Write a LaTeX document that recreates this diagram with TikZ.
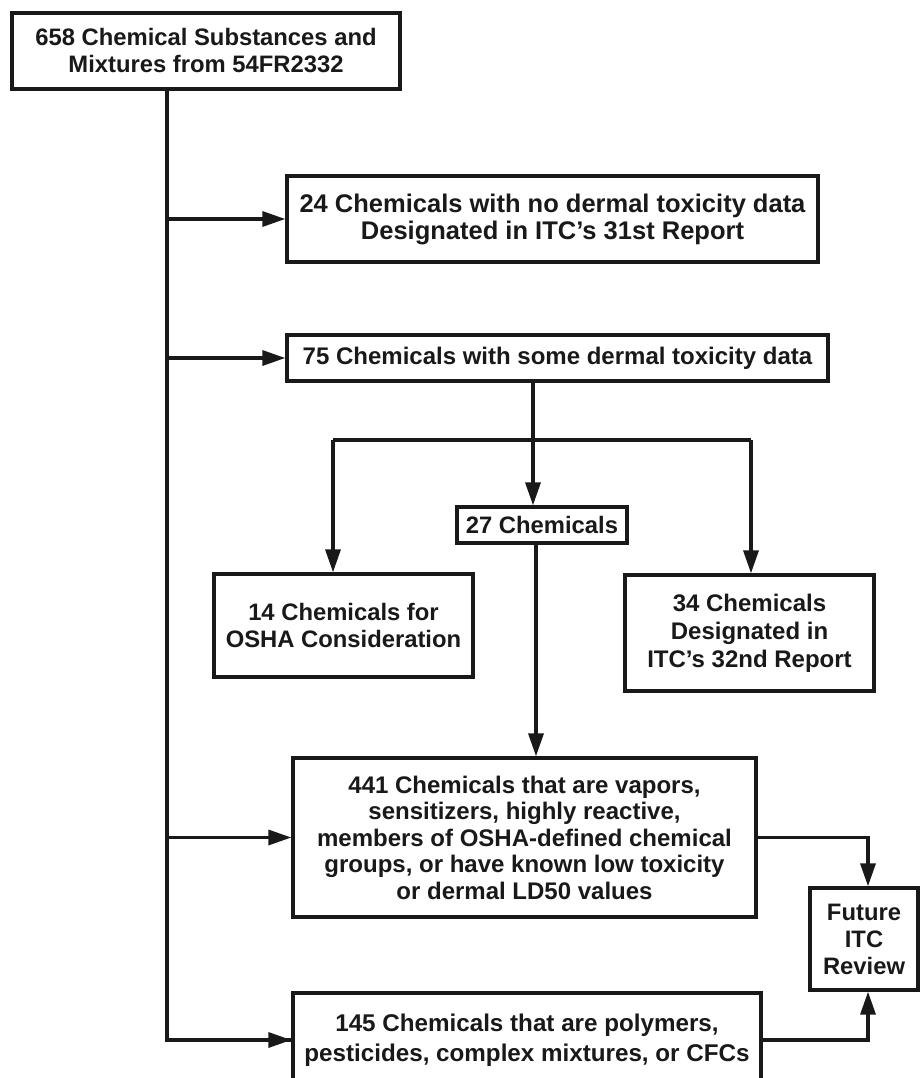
\documentclass[tikz,border=0pt]{standalone}
\usepackage{fontspec}
\setmainfont{Liberation Sans}
\usetikzlibrary{arrows.meta,calc}
\begin{document}
\begin{tikzpicture}[x=1pt,y=-1pt,
  box/.style={draw=black!90,line width=3.3pt,align=center,inner sep=0pt,
    font=\fontsize{23.8}{27}\selectfont\bfseries,text=black!90},
  conn/.style={draw=black!90,line width=3.3pt},
  arr/.style={conn,-{Triangle[length=23pt,width=15pt]}}]
\useasboundingbox (0,0) rectangle (921,1078);
\clip (0,0) rectangle (921,1078);
\fill[white] (0,0) rectangle (921,1078);
% boxes
\node[box,minimum width=388pt,minimum height=76pt] (top) at (206,51)
  {658 Chemical Substances and\\Mixtures from 54FR2332};
\node[box,minimum width=531pt,minimum height=86pt,font=\fontsize{25.5}{27}\selectfont\bfseries] (b24) at (552.5,219)
  {24 Chemicals with no dermal toxicity data\\Designated in ITC's 31st Report};
\node[box,minimum width=541pt,minimum height=46pt,font=\fontsize{24}{27}\selectfont\bfseries] (b75) at (557.5,358)
  {75 Chemicals with some dermal toxicity data};
\node[box,minimum width=170pt,minimum height=36pt] (b27) at (542,525)
  {27 Chemicals};
\node[box,minimum width=259pt,minimum height=103pt] (b14) at (343.5,625.5)
  {14 Chemicals for\\OSHA Consideration};
\node[box,minimum width=249pt,minimum height=116pt,font=\fontsize{24}{28}\selectfont\bfseries] (b34) at (749.5,633)
  {34 Chemicals\\Designated in\\ITC's 32nd Report};
\node[box,minimum width=463pt,minimum height=159pt,font=\fontsize{24}{26.5}\selectfont\bfseries] (b441) at (524.5,837.5)
  {441 Chemicals that are vapors,\\sensitizers, highly reactive,\\members of OSHA-defined chemical\\groups, or have known low toxicity\\or dermal LD50 values};
\node[box,minimum width=108pt,minimum height=102pt] (fut) at (864,939)
  {Future\\ITC\\Review};
\node[box,minimum width=468pt,minimum height=94pt,font=\fontsize{24.2}{30}\selectfont\bfseries] (b145) at (527,1040)
  {145 Chemicals that are polymers,\\pesticides, complex mixtures, or CFCs};
% coordinates
\coordinate (trunk) at (167,0);
\coordinate (split) at (533,440);
\coordinate (sl) at (333,440);
\coordinate (sr) at (751,440);
\coordinate (fx) at (868,0);
% connectors
\draw[conn] (top.south -| trunk) -- (trunk |- b145.west) -- (b145.west);
\draw[arr] (trunk |- b24.west) -- (b24.west);
\draw[arr] (trunk |- b75.west) -- (b75.west);
\draw[arr] (trunk |- b441.west) -- (b441.west);
\draw[arr] (trunk |- b145.west) -- (b145.west);
\draw[arr] (b75.south -| split) -- (b27.north -| split);
\draw[conn] (sl) -- (sr);
\draw[arr] (sl) -- (b14.north -| sl);
\draw[arr] (sr) -- (b34.north -| sr);
\draw[arr] (b27.south -| 536,0) -- (b441.north -| 536,0);
\draw[arr] (b441.east) -- (fx |- b441.east) -- (fut.north -| fx);
\draw[arr] (b145.east) -- (fx |- b145.east) -- (fut.south -| fx);
\end{tikzpicture}
\end{document}
